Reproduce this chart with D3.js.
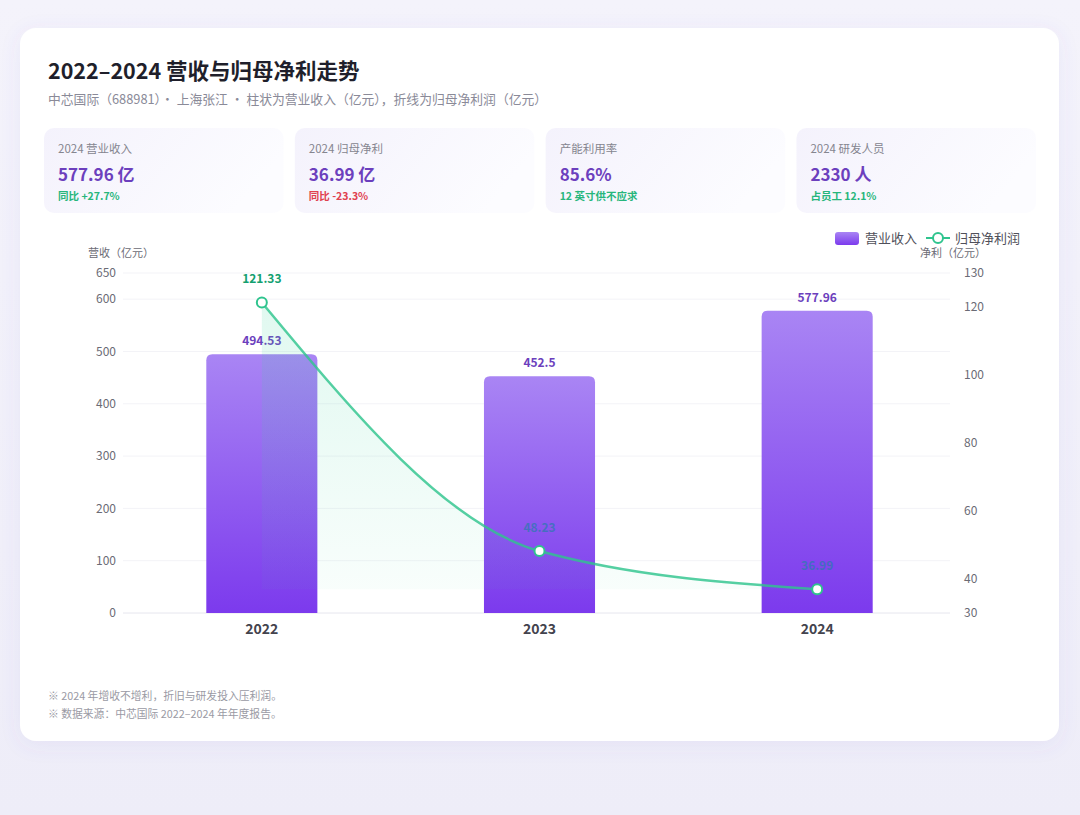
<!DOCTYPE html>
<html>
<head>
<meta charset="utf-8">
<script src="https://cdn.jsdelivr.net/npm/d3@7"></script>
<style>
    body { margin: 0; background: #f1f0fa; }
    svg { display: block; }
</style>
</head>
<body>
<div id="chart-area"></div>
<script>
// data
var years = ["2022", "2023", "2024"];
var revenue = [494.53, 452.5, 577.96];
var profit = [121.33, 48.23, 36.99];
var revTicks = [0, 100, 200, 300, 400, 500, 600, 650];
var profitTicks = [30, 40, 60, 80, 100, 120, 130];

var kpiLabels = ["2024 营业收入", "2024 归母净利", "产能利用率", "2024 研发人员"];
var kpiValues = ["577.96 亿", "36.99 亿", "85.6%", "2330 人"];
var kpiNotes = ["同比 +27.7%", "同比 -23.3%", "12 英寸供不应求", "占员工 12.1%"];
var kpiTone = ["up", "down", "up", "up"];

var footNotes = [
    "※ 2024 年增收不增利，折旧与研发投入压利润。",
    "※ 数据来源：中芯国际 2022–2024 年年度报告。"
];

var FONT = "'Noto Sans CJK SC', 'Noto Sans', sans-serif";
var W = 1080, H = 815;

var svg = d3.select("#chart-area").append("svg")
    .attr("width", W)
    .attr("height", H)
    .style("font-family", FONT);

var defs = svg.append("defs");

var bgGrad = defs.append("linearGradient").attr("id", "bg")
    .attr("x1", 0).attr("y1", 0).attr("x2", 0).attr("y2", 1);
bgGrad.append("stop").attr("offset", "0%").attr("stop-color", "#f4f3fb");
bgGrad.append("stop").attr("offset", "100%").attr("stop-color", "#eeedf8");

var shadow = defs.append("filter").attr("id", "shadow")
    .attr("x", "-10%").attr("y", "-10%").attr("width", "120%").attr("height", "120%");
shadow.append("feDropShadow")
    .attr("dx", 0).attr("dy", 4).attr("stdDeviation", 10)
    .attr("flood-color", "#6a5acd").attr("flood-opacity", 0.08);

var kpiGrad = defs.append("linearGradient").attr("id", "kpiBg")
    .attr("x1", 0).attr("y1", 0).attr("x2", 1).attr("y2", 0.3);
kpiGrad.append("stop").attr("offset", "0%").attr("stop-color", "#f4f2fc");
kpiGrad.append("stop").attr("offset", "100%").attr("stop-color", "#fcfcff");

var barGrad = defs.append("linearGradient").attr("id", "barGrad")
    .attr("x1", 0).attr("y1", 0).attr("x2", 0).attr("y2", 1);
barGrad.append("stop").attr("offset", "0%").attr("stop-color", "#a985f4");
barGrad.append("stop").attr("offset", "100%").attr("stop-color", "#7c3aed");

var areaGrad = defs.append("linearGradient").attr("id", "areaGrad")
    .attr("gradientUnits", "userSpaceOnUse")
    .attr("x1", 0).attr("y1", 300).attr("x2", 0).attr("y2", 600);
areaGrad.append("stop").attr("offset", "0%").attr("stop-color", "#3dd6a0").attr("stop-opacity", 0.16);
areaGrad.append("stop").attr("offset", "100%").attr("stop-color", "#3dd6a0").attr("stop-opacity", 0.03);

// page + card
svg.append("rect").attr("width", W).attr("height", H).attr("fill", "url(#bg)");
svg.append("rect")
    .attr("x", 20).attr("y", 28)
    .attr("width", 1039).attr("height", 713)
    .attr("rx", 16)
    .attr("fill", "#ffffff")
    .attr("filter", "url(#shadow)");

// title
svg.append("text")
    .attr("x", 48).attr("y", 79)
    .attr("font-size", "21.5px")
    .attr("font-weight", 700)
    .attr("fill", "#1f1f2b")
    .text("2022–2024 营收与归母净利走势");
svg.append("text")
    .attr("x", 48).attr("y", 104)
    .attr("font-size", "12.8px")
    .attr("fill", "#8a8a98")
    .text("中芯国际（688981）· 上海张江 · 柱状为营业收入（亿元），折线为归母净利润（亿元）");

// KPI cards
var toneColor = { up: "#27b67c", down: "#e0414f" };
var kpiX = d3.scaleBand().domain(d3.range(kpiLabels.length)).range([44, 1036]).paddingInner(0.045);

var cards = svg.selectAll(".kpi")
    .data(kpiLabels)
    .enter().append("g")
    .attr("class", "kpi")
    .attr("transform", (d, i) => "translate(" + kpiX(i) + ", 128)");

cards.append("rect")
    .attr("width", kpiX.bandwidth())
    .attr("height", 85)
    .attr("rx", 10)
    .attr("fill", "url(#kpiBg)");
cards.append("text")
    .attr("x", 14)
    .attr("y", 25)
    .attr("font-size", "11.5px")
    .attr("fill", "#85858f")
    .text((d) => d);
cards.append("text")
    .attr("x", 14).attr("y", 53)
    .attr("font-size", "17px")
    .attr("font-weight", 700)
    .attr("fill", "#6c3fbd")
    .text((d, i) => kpiValues[i]);
cards.append("text")
    .attr("x", 14).attr("y", 72)
    .attr("font-size", "10.5px")
    .attr("font-weight", 700)
    .attr("fill", (d, i) => toneColor[kpiTone[i]])
    .text((d, i) => kpiNotes[i]);

// chart scales
var plot = { left: 123, right: 956, top: 273, bottom: 613 };

var x = d3.scaleBand()
    .domain(years)
    .range([plot.left, plot.right])
    .paddingInner(0.6)
    .paddingOuter(0.3);
var y = d3.scaleLinear().domain([0, 650]).range([plot.bottom, plot.top]);
var y2 = d3.scaleLinear().domain([30, 130]).range([plot.bottom, plot.top]);

var g = svg.append("g");

// gridlines
g.selectAll(".grid")
    .data(revTicks)
    .enter().append("line")
    .attr("class", "grid")
    .attr("x1", plot.left).attr("x2", plot.right - 6)
    .attr("y1", (d) => y(d)).attr("y2", (d) => y(d))
    .attr("stroke", (d) => d === 0 ? "#e6e6ee" : "#f3f3f7")
    .attr("stroke-width", 1);

// left axis
var leftAxis = d3.axisLeft(y).tickValues(revTicks).tickSize(0).tickPadding(0);
var yAxisGroup = g.append("g")
    .attr("transform", "translate(116, 0)")
    .call(leftAxis);
yAxisGroup.select(".domain").remove();
yAxisGroup.selectAll("text")
    .attr("font-family", FONT)
    .attr("font-size", "12px")
    .attr("fill", "#6b6b75");

// right axis
var rightAxis = d3.axisRight(y2).tickValues(profitTicks).tickSize(0).tickPadding(0);
var y2AxisGroup = g.append("g")
    .attr("transform", "translate(964, 0)")
    .call(rightAxis);
y2AxisGroup.select(".domain").remove();
y2AxisGroup.selectAll("text")
    .attr("font-family", FONT)
    .attr("font-size", "12px")
    .attr("fill", "#6b6b75");

// bottom axis
var bottomAxis = d3.axisBottom(x).tickSize(0).tickPadding(0);
var xAxisGroup = g.append("g")
    .attr("transform", "translate(0, " + (plot.bottom + 8) + ")")
    .call(bottomAxis);
xAxisGroup.select(".domain").remove();
xAxisGroup.selectAll("text")
    .attr("font-family", FONT)
    .attr("font-size", "14px")
    .attr("font-weight", 700)
    .attr("fill", "#43434d")
    .attr("dy", "0.9em");

// axis titles
g.append("text")
    .attr("x", 88).attr("y", 257)
    .attr("font-size", "11px")
    .attr("fill", "#6b6b75")
    .text("营收（亿元）");
g.append("text")
    .attr("x", 986).attr("y", 257)
    .attr("text-anchor", "end")
    .attr("font-size", "11px")
    .attr("fill", "#6b6b75")
    .text("净利（亿元）");

// bars (rounded top)
function barPath(d, i) {
    var x0 = x(years[i]), w = x.bandwidth();
    var y0 = y(d), b = y(0), r = 6;
    return "M" + x0 + "," + b +
        "V" + (y0 + r) +
        "Q" + x0 + "," + y0 + " " + (x0 + r) + "," + y0 +
        "H" + (x0 + w - r) +
        "Q" + (x0 + w) + "," + y0 + " " + (x0 + w) + "," + (y0 + r) +
        "V" + b + "Z";
}
g.selectAll(".bar")
    .data(revenue)
    .enter().append("path")
    .attr("class", "bar")
    .attr("d", barPath)
    .attr("fill", "url(#barGrad)");

g.selectAll(".bar-label")
    .data(revenue)
    .enter().append("text")
    .attr("class", "bar-label")
    .attr("x", (d, i) => x(years[i]) + x.bandwidth() / 2)
    .attr("y", (d) => y(d) - 9)
    .attr("text-anchor", "middle")
    .attr("font-size", "12px")
    .attr("font-weight", 700)
    .attr("fill", "#6c3fbd")
    .text((d) => d);

// profit line + area
var cx = (d, i) => x(years[i]) + x.bandwidth() / 2;

var area = d3.area()
    .x(cx)
    .y0(y2(d3.min(profit)))
    .y1((d) => y2(d))
    .curve(d3.curveMonotoneX);
g.append("path")
    .datum(profit)
    .attr("d", area)
    .attr("fill", "url(#areaGrad)");

var line = d3.line()
    .x(cx)
    .y((d) => y2(d))
    .curve(d3.curveMonotoneX);
g.append("path")
    .datum(profit)
    .attr("d", line)
    .attr("fill", "none")
    .attr("stroke", "#2fc48e")
    .attr("stroke-opacity", 0.82)
    .attr("stroke-width", 2.5);

g.selectAll(".line-label")
    .data(profit)
    .enter().append("text")
    .attr("class", "line-label")
    .attr("x", cx)
    .attr("y", (d) => y2(d) - 19)
    .attr("text-anchor", "middle")
    .attr("font-size", "12px")
    .attr("font-weight", 700)
    .attr("fill", (d, i) => i === 0 ? "#13a06f" : "#2f78b0")
    .attr("fill-opacity", (d, i) => i === 0 ? 1 : 0.75)
    .text((d) => d);

g.selectAll(".dot")
    .data(profit)
    .enter().append("circle")
    .attr("class", "dot")
    .attr("cx", cx)
    .attr("cy", (d) => y2(d))
    .attr("r", 5)
    .attr("fill", "#ffffff")
    .attr("stroke", "#2fc48e")
    .attr("stroke-width", 2);

// legend
var legend = svg.append("g").attr("transform", "translate(835, 238)");
legend.append("rect")
    .attr("x", 0).attr("y", -6)
    .attr("width", 24).attr("height", 13)
    .attr("rx", 3)
    .attr("fill", "url(#barGrad)");
legend.append("text")
    .attr("x", 30).attr("y", 4.5)
    .attr("font-size", "13px")
    .attr("fill", "#50505a")
    .text("营业收入");
legend.append("line")
    .attr("x1", 91).attr("x2", 115)
    .attr("y1", 0).attr("y2", 0)
    .attr("stroke", "#2fc48e")
    .attr("stroke-width", 2);
legend.append("circle")
    .attr("cx", 103).attr("cy", 0)
    .attr("r", 5)
    .attr("fill", "#ffffff")
    .attr("stroke", "#2fc48e")
    .attr("stroke-width", 2);
legend.append("text")
    .attr("x", 120).attr("y", 4.5)
    .attr("font-size", "13px")
    .attr("fill", "#50505a")
    .text("归母净利润");

// footnotes
svg.selectAll(".foot")
    .data(footNotes)
    .enter().append("text")
    .attr("class", "foot")
    .attr("x", 48)
    .attr("y", (d, i) => 700 + i * 18)
    .attr("font-size", "10.8px")
    .attr("fill", "#9a9aa4")
    .text((d) => d);
</script>
</body>
</html>
